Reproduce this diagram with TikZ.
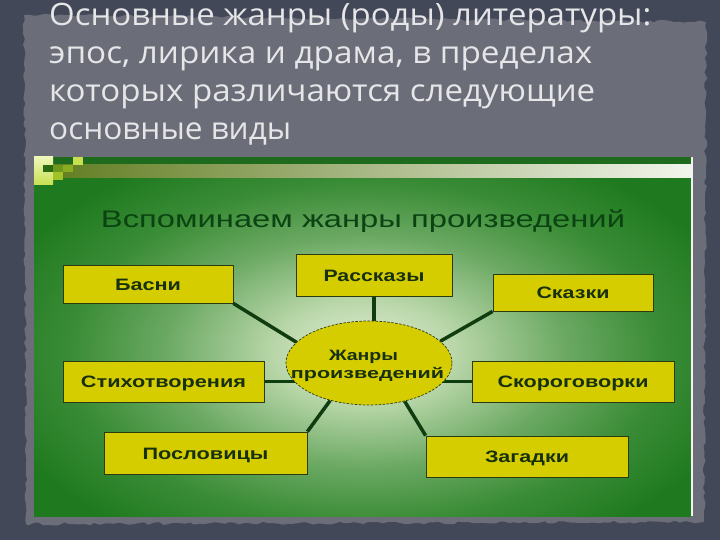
\documentclass[tikz,border=0pt]{standalone}
\usepackage{fontspec}
\usepackage{graphicx}
\setmainfont{Liberation Sans}
\newfontfamily\headfont{Open Sans}
\usetikzlibrary{shapes.geometric,decorations.pathmorphing}
\definecolor{bgdark}{HTML}{434859}
\definecolor{panelgray}{HTML}{6B6E79}
\definecolor{headtext}{HTML}{E6E6E8}
\definecolor{gdark}{HTML}{1F7A1F}
\definecolor{glowa}{HTML}{E4EED8}
\definecolor{glowb}{HTML}{B8D6A8}
\definecolor{glowc}{HTML}{6AA862}
\definecolor{glowd}{HTML}{3A8C36}
\definecolor{gbar}{HTML}{1E6B1E}
\definecolor{banda}{HTML}{5E7A1C}
\definecolor{bandb}{HTML}{A4BC84}
\definecolor{bandc}{HTML}{F2F5EC}
\definecolor{pixlight}{HTML}{EEF6B8}
\definecolor{pixlightb}{HTML}{C8E050}
\definecolor{pixdark}{HTML}{2A6A10}
\definecolor{pixmid}{HTML}{A0C428}
\definecolor{pixmidb}{HTML}{8AAC20}
\definecolor{titlegreen}{HTML}{0B4412}
\definecolor{boxyellow}{HTML}{D6CD00}
\definecolor{boxline}{HTML}{2B3A12}
\definecolor{boxtext}{HTML}{17300F}
\definecolor{linkgreen}{HTML}{0F3D0F}
\pgfdeclareradialshading{glow}{\pgfpoint{0bp}{0bp}}{color(0bp)=(glowa); color(5bp)=(glowb); color(11bp)=(glowc); color(16bp)=(glowd); color(21bp)=(gdark); color(50bp)=(gdark)}
\pgfdeclarelayer{back}
\pgfdeclarelayer{links}
\pgfsetlayers{back,links,main}
\newcommand\fitto[2]{\resizebox{#1}{\height}{#2}}
\begin{document}
\begin{tikzpicture}[x=1pt,y=-1pt,
  headline/.style={anchor=base west, inner sep=0pt, text=headtext, font=\headfont\fontsize{30.8}{36}\selectfont},
  genrebox/.style={draw=boxline, line width=0.8pt, fill=boxyellow, text=boxtext,
    font=\bfseries\fontsize{16.5}{18}\selectfont, inner sep=0pt, text height=12pt, text depth=0pt},
  genrelabel/.style={anchor=base, inner sep=0pt, text=boxtext, font=\bfseries\fontsize{15}{18}\selectfont},
  link/.style={draw=linkgreen, line width=3.5pt}]
\useasboundingbox (0,0) rectangle (720,540);
\begin{pgfonlayer}{back}
\fill[bgdark] (0,0) rectangle (720,540);
\pgfmathsetseed{7}
\fill[panelgray, decorate, decoration={random steps, segment length=5pt, amplitude=1.5pt}]
  (24,15) -- (706,22) -- (704,522) -- (26,524) -- cycle;
% green picture
\fill[gdark] (34,157) rectangle (691,516);
\begin{scope}
  \clip (34,178) rectangle (691,516);
  \shade[shading=glow] (365,352) ellipse (460 and 265);
\end{scope}
\fill[gbar] (34,157) rectangle (691,165);
\shade[left color=banda, middle color=bandb, right color=bandc] (34,165) rectangle (691,178);
\shade[top color=pixlight, bottom color=pixlightb] (34,157) rectangle (53,185);
\fill[pixdark] (43,165) rectangle (53,172);
\fill[pixmid] (53,172) rectangle (63,180);
\fill[pixmidb] (63,165) rectangle (73,172);
\fill[pixmidb!70!pixdark] (53,165) rectangle (63,172);
\fill[pixlightb] (73,157) rectangle (83,165);
\fill[white!90!gray] (691,157) rectangle (693,516);
\end{pgfonlayer}

% heading
\node[headline] (h1) at (49,26) {\fitto{602pt}{Основные жанры (роды) литературы:}};
\node[headline] (h2) at (49,64) {\fitto{543pt}{эпос, лирика и драма, в пределах}};
\node[headline] (h3) at (49,102) {\fitto{546pt}{которых различаются следующие}};
\node[headline] (h4) at (49,140) {\fitto{242pt}{основные виды}};

% inner title
\node[anchor=base, inner sep=0pt, text=titlegreen, font=\fontsize{24}{28}\selectfont] (title) at (363,227)
  {\fitto{524pt}{Вспоминаем жанры произведений}};

% boxes
\node[genrebox, minimum width=170pt, minimum height=38pt] (basni) at (148,284) {\fitto{66pt}{Басни}};
\node[genrebox, minimum width=156pt, minimum height=42pt] (rasskazy) at (374,275) {\fitto{101pt}{Рассказы}};
\node[genrebox, minimum width=160pt, minimum height=37pt] (skazki) at (573,292.5) {\fitto{73pt}{Сказки}};
\node[genrebox, minimum width=201pt, minimum height=41pt] (stikh) at (163.5,381.5) {\fitto{165pt}{Стихотворения}};
\node[genrebox, minimum width=203pt, minimum height=42pt] (poslov) at (205.5,453) {\fitto{126pt}{Пословицы}};
\node[genrebox, minimum width=202pt, minimum height=41pt] (skorog) at (573,381.5) {\fitto{151pt}{Скороговорки}};
\node[genrebox, minimum width=202pt, minimum height=41pt] (zagadki) at (527,456.5) {\fitto{84pt}{Загадки}};

% centre
\node[ellipse, draw=boxline, dash pattern=on 2.5pt off 1.5pt, line width=0.7pt, fill=boxyellow,
  minimum width=166pt, minimum height=84pt, inner sep=0pt] (genre) at (369,363) {};
\node[genrelabel] (g1) at (363.5,360) {\fitto{69pt}{Жанры}};
\node[genrelabel] (g2) at (367.5,378) {\fitto{153pt}{произведений}};

% connectors
\begin{pgfonlayer}{links}
\draw[link] (basni.south east) -- (genre.164);
\draw[link] (rasskazy.south) -- (rasskazy.south |- genre.center);
\draw[link] (skazki.south west) -- (genre.17);
\draw[link] (stikh.east) -- (stikh.east -| genre.center);
\draw[link] (skorog.west) -- (skorog.west -| genre.center);
\draw[link] (poslov.north east) -- (genre.224);
\draw[link] (zagadki.north west) -- (genre.313);
\end{pgfonlayer}
\end{tikzpicture}
\end{document}
